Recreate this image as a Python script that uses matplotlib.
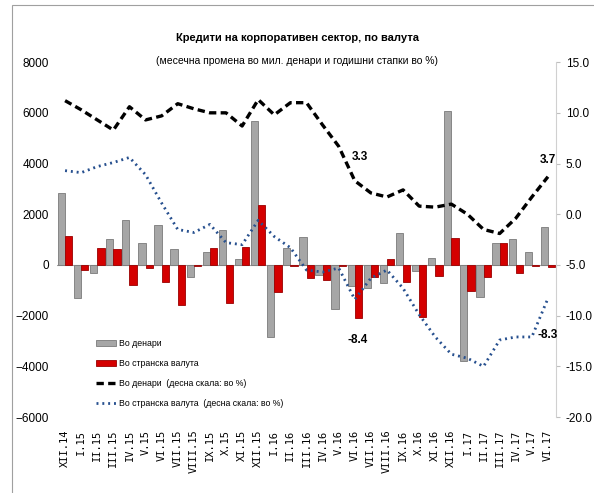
import numpy as np
import matplotlib.pyplot as plt
from matplotlib.lines import Line2D
from matplotlib.patches import Rectangle

plt.rcParams['font.family'] = ['Liberation Sans Narrow', 'Liberation Sans', 'DejaVu Sans']

cats = ['XII.14', 'I.15', 'II.15', 'III.15', 'IV.15', 'V.15', 'VI.15', 'VII.15',
        'VIII.15', 'IX.15', 'X.15', 'XI.15', 'XII.15', 'I.16', 'II.16', 'III.16',
        'IV.16', 'V.16', 'VI.16', 'VII.16', 'VIII.16', 'IX.16', 'X.16', 'XI.16',
        'XII.16', 'I.17', 'II.17', 'III.17', 'IV.17', 'V.17', 'VI.17']

# monthly change, mil. denars
den_bars = [2850, -1310, -330, 1010, 1780, 850, 1580, 630, -460, 500, 1380, 230,
            5690, -2830, 660, 1120, -400, -1740, -830, -920, -720, 1250, -230, 260,
            6070, -3790, -1250, 860, 1030, 530, 1510]
fx_bars = [1140, -200, 660, 620, -790, -130, -660, -1580, -40, 660, -1500, 720,
           2370, -1050, -60, -520, -590, -40, -2100, -460, 230, -680, -2040, -430,
           1080, -1030, -460, 880, -330, -40, -70]

# annual growth rates, % (right scale)
den_rate = [11.2, 10.3, 9.3, 8.3, 10.6, 9.3, 9.7, 10.9, 10.4, 10.0, 10.0, 8.7,
            11.3, 9.8, 11.0, 11.0, 8.8, 6.7, 3.3, 2.1, 1.7, 2.4, 0.8, 0.7,
            1.0, 0.0, -1.5, -1.9, -0.4, 1.7, 3.7]
fx_rate = [4.3, 4.1, 4.7, 5.1, 5.6, 3.9, 1.1, -1.5, -1.8, -1.0, -2.8, -3.0,
           -0.6, -2.2, -3.3, -5.5, -5.7, -5.3, -8.4, -6.3, -5.5, -7.3, -9.9, -12.1,
           -13.8, -14.2, -15.0, -12.4, -12.1, -12.1, -8.3]

labels = ['Во денари', 'Во странска валута',
          'Во денари  (десна скала: во %)', 'Во странска валута  (десна скала: во %)']

fig = plt.figure(figsize=(5.94, 4.93), dpi=100)
ax = fig.add_axes([0.096, 0.154, 0.840, 0.720])
ax2 = ax.twinx()

x = np.arange(len(cats))
w = 0.45
ax.bar(x - w / 2, den_bars, w, color='#a6a6a6', edgecolor='#7a7a7a', lw=0.6)
ax.bar(x + w / 2, fx_bars, w, color='#d40000', edgecolor='#9a0000', lw=0.6)
ax.axhline(0, color='#a0a0a0', lw=0.8, zorder=0)
ax.set_ylim(-6000, 8000)
ax.set_yticks(range(-6000, 8001, 2000))
ax.set_xlim(-0.5, 30.5)
ax.set_xticks(x)
ax.set_xticklabels(cats, rotation=90, family='DejaVu Sans Mono', fontsize=7.5)
ax.tick_params(axis='x', length=0, pad=9)
ax.tick_params(axis='y', length=0, labelsize=8.5, pad=6)
for s in ax.spines.values():
    s.set_visible(False)

ax2.plot(x, den_rate, color='black', ls=(0, (2.2, 1.3)), lw=2.4)
ax2.plot(x, fx_rate, color='#27508f', ls=(0, (0.7, 1.4)), lw=2.0)
ax2.set_ylim(-20, 15)
ax2.set_yticks(np.arange(-20, 15.1, 5))
ax2.set_yticklabels(['%.1f' % v for v in np.arange(-20, 15.1, 5)])
ax2.tick_params(axis='y', length=3, color='#bfbfbf', labelsize=8.5, pad=4)
for k, s in ax2.spines.items():
    s.set_visible(k == 'right')
ax2.spines['right'].set_color('#d0d0d0')

lab_kw = dict(textcoords='offset points', ha='center', va='center',
              fontsize=8.5, fontweight='bold')
ax2.annotate('%.1f' % den_rate[18], (18, den_rate[18]), xytext=(4, 17), **lab_kw)
ax2.annotate('%.1f' % fx_rate[18], (18, fx_rate[18]), xytext=(2, -29), **lab_kw)
ax2.annotate('%.1f' % den_rate[30], (30, den_rate[30]), xytext=(0, 12), **lab_kw)
ax2.annotate('%.1f' % fx_rate[30], (30, fx_rate[30]), xytext=(0, -26), **lab_kw)

handles = [Rectangle((0, 0), 1, 1, fc='#a6a6a6', ec='#7a7a7a', lw=0.6),
           Rectangle((0, 0), 1, 1, fc='#d40000', ec='#9a0000', lw=0.6),
           Line2D([], [], color='black', ls=(0, (2.2, 1.3)), lw=2.4),
           Line2D([], [], color='#27508f', ls=(0, (0.7, 1.4)), lw=2.0)]
ax2.legend(handles, labels, loc='upper left', bbox_to_anchor=(0.07, 0.232),
           frameon=False, fontsize=6.3, handlelength=2.2, handleheight=0.7,
           handletextpad=0.4, labelspacing=1.25, borderpad=0)

fig.text(0.5, 0.922, 'Кредити на корпоративен сектор, по валута',
         ha='center', va='center', fontsize=8, fontweight='bold')
fig.text(0.5, 0.877, '(месечна промена во мил. денари и годишни стапки во %)',
         ha='center', va='center', fontsize=7.5)

# outer chart frame
fig.add_artist(Rectangle((12 / 594, -0.05), 1.1, 1 - 5 / 493 + 0.05,
                         transform=fig.transFigure, fill=False,
                         ec='#a0a0a0', lw=0.8))

fig.savefig('out.png', dpi=100)
